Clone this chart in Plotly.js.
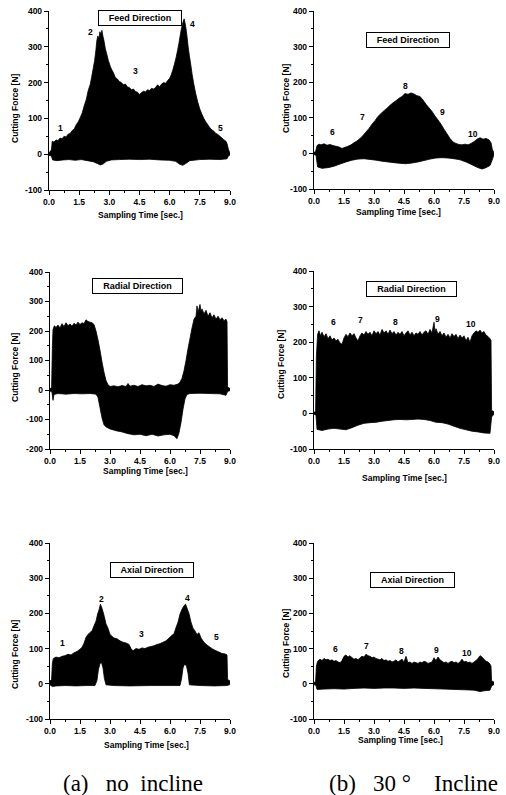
<!DOCTYPE html>
<html><head><meta charset="utf-8">
<script src="https://cdn.plot.ly/plotly-3.0.1.min.js"></script>
<style>html,body{margin:0;padding:0;background:#fff}#chart{width:506px;height:795px}</style>
</head><body><div id="chart"></div>
<script>
// ---------- data (time in sec., force in N) ----------
const xTickVals = [0, 1.5, 3.0, 4.5, 6.0, 7.5, 9.0];
const xTickText = ["0.0", "1.5", "3.0", "4.5", "6.0", "7.5", "9.0"];
const yTicksStd = [-100, 0, 100, 200, 300, 400];
const yTicksRad = [-200, -100, 0, 100, 200, 300, 400];

// (a) no incline - Feed
const feedA_upT = [0,0.06,0.12,0.16,0.25,0.35,0.45,0.55,0.65,0.75,0.85,0.95,1.05,1.15,1.25,1.35,1.45,1.55,1.65,1.75,1.85,1.95,2.05,2.12,2.2,2.27,2.33,2.38,2.43,2.48,2.53,2.58,2.63,2.68,2.73,2.8,2.87,2.95,3.05,3.12,3.2,3.3,3.4,3.5,3.6,3.7,3.8,3.9,4.0,4.1,4.2,4.3,4.4,4.5,4.6,4.7,4.8,4.9,5.0,5.1,5.2,5.3,5.4,5.5,5.6,5.7,5.8,5.9,6.0,6.08,6.16,6.24,6.32,6.4,6.46,6.52,6.58,6.63,6.68,6.72,6.76,6.81,6.86,6.92,6.98,7.05,7.12,7.2,7.3,7.4,7.5,7.6,7.7,7.8,7.9,8.0,8.1,8.2,8.3,8.4,8.5,8.6,8.7,8.8,8.86,8.92,8.96,9.0];
const feedA_upF = [4,8,12,36,34,40,38,45,43,50,48,56,58,66,70,82,90,102,115,135,152,178,195,215,240,262,290,318,330,322,342,335,346,330,318,295,280,262,245,236,228,214,210,203,200,194,196,188,186,180,182,175,173,167,172,176,174,180,178,184,182,186,194,188,196,200,198,206,212,222,236,252,270,292,310,330,350,362,372,378,368,352,330,300,275,250,222,196,168,145,126,112,100,90,82,74,68,64,58,55,50,45,40,36,28,14,8,4];
const feedA_loT = [0,0.12,0.18,0.4,0.7,1.0,1.3,1.6,1.9,2.2,2.4,2.55,2.7,2.85,3.1,3.5,4.0,4.5,5.0,5.5,6.0,6.3,6.5,6.65,6.8,7.0,7.5,8.0,8.5,8.85,8.92,9.0];
const feedA_loF = [-3,-5,-16,-18,-16,-15,-17,-15,-18,-21,-26,-30,-27,-20,-16,-15,-14,-15,-14,-16,-17,-20,-28,-31,-26,-18,-15,-14,-15,-13,-5,-2];

// (b) 30 deg incline - Feed
const feedB_upT = [0,0.08,0.15,0.25,0.35,0.5,0.65,0.8,0.95,1.1,1.25,1.4,1.55,1.7,1.85,2.0,2.15,2.3,2.45,2.6,2.75,2.9,3.05,3.2,3.35,3.5,3.65,3.8,3.95,4.1,4.25,4.4,4.55,4.7,4.85,5.0,5.15,5.3,5.45,5.6,5.75,5.9,6.05,6.2,6.35,6.5,6.65,6.8,6.95,7.1,7.25,7.4,7.55,7.7,7.85,8.0,8.15,8.3,8.45,8.6,8.75,8.85,8.92,9.0];
const feedB_upF = [3,5,22,26,24,27,23,25,22,20,18,14,17,20,24,30,35,42,50,60,70,82,92,104,112,120,127,135,142,148,155,160,168,166,170,167,162,160,150,138,128,118,105,94,82,68,55,42,32,28,25,24,26,24,28,33,40,44,40,42,38,30,10,2];
const feedB_loT = [0,0.1,0.18,0.4,0.7,1.0,1.3,1.6,1.9,2.2,2.5,2.8,3.1,3.4,3.7,4.0,4.3,4.6,4.9,5.2,5.5,5.8,6.1,6.4,6.7,7.0,7.3,7.6,7.9,8.2,8.4,8.6,8.8,8.9,9.0];
const feedB_loF = [-3,-5,-38,-42,-40,-36,-30,-24,-19,-16,-15,-17,-19,-22,-24,-26,-28,-29,-27,-24,-20,-16,-13,-12,-13,-15,-18,-24,-32,-40,-44,-40,-34,-20,-3];

// (a) Radial
const radA_upT = [0,0.08,0.12,0.15,0.22,0.3,0.4,0.5,0.6,0.7,0.8,0.9,1.0,1.1,1.2,1.3,1.4,1.5,1.6,1.7,1.8,1.9,2.0,2.1,2.2,2.3,2.4,2.5,2.6,2.7,2.8,2.9,3.0,3.2,3.4,3.6,3.8,3.9,4.0,4.2,4.4,4.6,4.8,5.0,5.2,5.4,5.6,5.8,6.0,6.2,6.4,6.5,6.6,6.7,6.8,6.9,7.0,7.1,7.2,7.3,7.35,7.4,7.5,7.55,7.6,7.7,7.8,7.9,8.0,8.1,8.2,8.3,8.4,8.5,8.6,8.7,8.8,8.85,8.88,9.0];
const radA_upF = [5,8,150,205,218,212,220,210,225,215,228,218,224,216,226,220,230,222,228,225,238,232,230,228,222,200,170,135,95,60,32,18,12,14,11,15,12,22,13,16,12,18,14,16,12,20,15,13,18,16,20,26,40,65,100,140,175,210,240,250,285,262,290,265,275,258,270,250,262,245,255,240,250,238,245,235,240,232,10,5];
const radA_loT = [0,0.1,0.15,0.2,0.4,0.8,1.2,1.6,2.0,2.3,2.4,2.5,2.6,2.7,2.8,3.0,3.3,3.6,3.9,4.2,4.5,4.8,5.1,5.4,5.7,6.0,6.2,6.35,6.45,6.55,6.65,6.75,6.85,7.0,7.5,8.0,8.5,8.8,8.88,9.0];
const radA_loF = [-3,-8,-35,-15,-12,-14,-12,-13,-12,-14,-25,-60,-95,-118,-125,-132,-138,-142,-148,-152,-150,-155,-150,-156,-152,-150,-155,-165,-145,-110,-65,-30,-15,-12,-11,-12,-13,-18,-5,-2];

// (b) Radial
const radB_upT = [0,0.08,0.12,0.18,0.25,0.32,0.4,0.5,0.6,0.7,0.8,0.9,1.0,1.1,1.2,1.3,1.4,1.5,1.6,1.7,1.8,1.9,2.0,2.1,2.2,2.3,2.4,2.5,2.6,2.7,2.8,2.9,3.0,3.1,3.2,3.3,3.4,3.5,3.6,3.7,3.8,3.9,4.0,4.1,4.2,4.3,4.4,4.5,4.6,4.7,4.8,4.9,5.0,5.1,5.2,5.3,5.4,5.5,5.6,5.7,5.8,5.9,6.0,6.05,6.1,6.2,6.3,6.4,6.5,6.6,6.7,6.8,6.9,7.0,7.1,7.2,7.3,7.4,7.5,7.6,7.7,7.8,7.9,8.0,8.1,8.2,8.3,8.4,8.5,8.6,8.7,8.8,8.85,8.88,9.0];
const radB_upF = [3,5,160,222,232,218,228,215,224,210,218,206,212,204,208,198,194,212,222,215,226,218,224,212,204,218,226,220,230,222,228,218,232,224,230,220,236,226,232,222,234,224,230,220,228,222,230,218,226,232,220,228,218,226,222,230,220,228,232,222,236,226,256,228,238,222,230,218,226,214,222,212,224,216,222,210,220,212,218,204,214,200,218,226,232,228,234,226,230,220,216,210,205,8,5];
const radB_loT = [0,0.1,0.15,0.4,0.7,1.0,1.3,1.6,1.9,2.2,2.5,2.8,3.1,3.4,3.7,4.0,4.3,4.6,4.9,5.2,5.5,5.8,6.1,6.4,6.7,7.0,7.3,7.6,7.9,8.2,8.5,8.8,8.88,9.0];
const radB_loF = [-2,-5,-45,-48,-44,-42,-44,-46,-40,-33,-28,-26,-25,-22,-20,-18,-17,-18,-17,-16,-17,-20,-25,-26,-30,-36,-42,-46,-50,-52,-55,-56,-10,-2];

// (a) Axial
const axA_upT = [0,0.08,0.12,0.17,0.3,0.45,0.6,0.75,0.9,1.05,1.2,1.35,1.5,1.6,1.7,1.8,1.9,2.0,2.1,2.2,2.3,2.38,2.45,2.52,2.58,2.65,2.72,2.8,2.9,3.0,3.1,3.2,3.35,3.5,3.65,3.8,3.95,4.05,4.15,4.3,4.45,4.6,4.75,4.9,5.05,5.2,5.35,5.5,5.65,5.8,5.95,6.1,6.2,6.3,6.4,6.5,6.6,6.7,6.78,6.85,6.95,7.05,7.15,7.25,7.35,7.45,7.55,7.7,7.85,8.0,8.15,8.3,8.45,8.6,8.75,8.85,8.88,9.0];
const axA_upF = [8,12,60,72,76,74,78,80,84,82,88,92,98,104,115,132,140,146,150,165,178,198,210,226,218,205,190,170,158,140,135,130,128,122,118,116,112,100,94,100,98,102,100,104,106,108,112,114,118,122,130,138,142,160,175,198,212,222,226,215,200,175,158,150,140,145,130,118,110,104,98,94,90,86,85,82,12,8];
const axA_loT = [0,0.12,0.3,0.8,1.3,1.8,2.25,2.35,2.42,2.5,2.58,2.65,2.72,2.8,3.2,4.0,5.0,6.0,6.5,6.58,6.65,6.72,6.82,6.9,6.97,7.5,8.2,8.85,9.0];
const axA_loF = [-3,-8,-6,-5,-6,-5,-5,10,40,58,60,45,15,-3,-5,-6,-5,-5,-5,15,45,55,52,30,-3,-5,-6,-5,-2];

// (b) Axial
const axB_upT = [0,0.08,0.12,0.18,0.3,0.4,0.5,0.6,0.7,0.8,0.9,1.0,1.1,1.2,1.3,1.4,1.5,1.6,1.7,1.8,1.9,2.0,2.1,2.2,2.3,2.4,2.5,2.6,2.7,2.8,2.9,3.0,3.1,3.2,3.3,3.4,3.5,3.6,3.7,3.8,3.9,4.0,4.1,4.2,4.3,4.4,4.5,4.6,4.7,4.8,4.9,5.0,5.1,5.2,5.3,5.4,5.5,5.6,5.7,5.8,5.9,6.0,6.1,6.2,6.3,6.4,6.5,6.6,6.7,6.8,6.9,7.0,7.1,7.2,7.3,7.4,7.5,7.6,7.7,7.8,7.9,8.0,8.1,8.2,8.3,8.4,8.5,8.6,8.7,8.8,8.85,8.88,9.0];
const axB_upF = [4,6,50,64,70,66,72,68,70,66,68,64,66,62,60,66,78,82,76,80,74,70,72,68,74,78,76,84,80,78,74,76,72,70,68,72,66,68,64,66,62,64,68,62,66,70,62,78,60,62,58,62,60,58,62,60,64,62,58,60,62,74,66,76,68,64,60,62,58,62,64,60,62,58,62,70,62,64,60,62,58,62,66,72,80,76,70,64,62,56,50,8,5];
const axB_loT = [0,0.1,0.15,0.5,1.0,1.5,2.0,2.5,3.0,3.5,4.0,4.5,5.0,5.5,6.0,6.5,7.0,7.5,8.0,8.3,8.5,8.8,8.88,9.0];
const axB_loF = [-2,-5,-16,-15,-14,-15,-13,-12,-13,-12,-12,-13,-12,-13,-14,-15,-16,-17,-18,-22,-20,-18,-6,-2];

// peak markers
const labelsA = ["1", "2", "3", "4", "5"];
const labelsB = ["6", "7", "8", "9", "10"];
const feedA_labT = [0.58, 2.06, 4.32, 7.14, 8.55];
const feedA_labF = [74, 342, 232, 364, 72];
const feedB_labT = [0.92, 2.42, 4.55, 6.43, 7.97];
const feedB_labF = [60, 103, 190, 116, 55];
const radB_labT = [0.97, 2.34, 4.09, 6.18, 7.85];
const radB_labF = [256, 261, 258, 264, 252];
const axA_labT = [0.63, 2.55, 4.57, 6.88, 8.3];
const axA_labF = [115, 240, 142, 243, 132];
const axB_labT = [1.05, 2.62, 4.37, 6.14, 7.63];
const axB_labF = [99, 106, 94, 95, 87];

const panelTitles = ["Feed Direction", "Feed Direction", "Radial Direction", "Radial Direction", "Axial Direction", "Axial Direction"];
const xTitle = "Sampling Time [sec.]";
const yTitle = "Cutting Force [N]";
const NB = "\u00a0";
const captions = ["(a)" + NB.repeat(3) + "no" + NB.repeat(2) + "incline",
                  "(b)" + NB.repeat(3) + "30" + NB + "\u00b0" + NB.repeat(4) + "Incline"];

// ---------- layout geometry (pixels) ----------
const W = 506, H = 795;
const px = v => v / W, py = v => 1 - v / H;
const panels = [
  {up:[feedA_upT,feedA_upF], lo:[feedA_loT,feedA_loF], box:[49,230,11,190], yr:[-100,400], yt:yTicksStd,
   lab:[labelsA,feedA_labT,feedA_labF], tpos:[140,18,84], xt:[140,215], yti:[15,108]},
  {up:[feedB_upT,feedB_upF], lo:[feedB_loT,feedB_loF], box:[314,494,11,189], yr:[-100,400], yt:yTicksStd,
   lab:[labelsB,feedB_labT,feedB_labF], tpos:[408,40,84], xt:[398,212], yti:[286,98]},
  {up:[radA_upT,radA_upF], lo:[radA_loT,radA_loF], box:[50,230,272,449], yr:[-200,400], yt:yTicksRad,
   lab:null, tpos:[137,286,91], xt:[145,471], yti:[15,367]},
  {up:[radB_upT,radB_upF], lo:[radB_loT,radB_loF], box:[314,494,271,449], yr:[-100,400], yt:yTicksStd,
   lab:[labelsB,radB_labT,radB_labF], tpos:[411,289,91], xt:[404,478], yti:[281,364]},
  {up:[axA_upT,axA_upF], lo:[axA_loT,axA_loF], box:[50,230,543,719], yr:[-100,400], yt:yTicksStd,
   lab:[labelsA,axA_labT,axA_labF], tpos:[152,570,84], xt:[146,745], yti:[15,654]},
  {up:[axB_upT,axB_upF], lo:[axB_loT,axB_loF], box:[314,494,543,719], yr:[-100,400], yt:yTicksStd,
   lab:[labelsB,axB_labT,axB_labF], tpos:[412,580,85], xt:[400,740], yti:[286,643]}
];

const FAM = "Liberation Sans, Arial, sans-serif";
const tickFont = {family: FAM, size: 8.5, color: "#000", weight: "bold"};
const data = [];
const layout = {
  width: W, height: H, margin: {l:0, r:0, t:0, b:0},
  paper_bgcolor: "#fff", plot_bgcolor: "#fff", showlegend: false,
  annotations: []
};

panels.forEach((p, i) => {
  const n = i === 0 ? "" : String(i + 1);
  data.push({
    type: "scatter", mode: "lines", x: p.lo[0], y: p.lo[1],
    line: {color: "#000", width: 0.8, simplify: false},
    xaxis: "x" + n, yaxis: "y" + n, hoverinfo: "skip", showlegend: false
  });
  data.push({
    type: "scatter", mode: "lines", x: p.up[0], y: p.up[1],
    fill: "tonexty", fillcolor: "#000",
    line: {color: "#000", width: 0.8, simplify: false},
    xaxis: "x" + n, yaxis: "y" + n, hoverinfo: "skip", showlegend: false
  });
  const [l, r, t, b] = p.box;
  layout["xaxis" + n] = {
    domain: [px(l), px(r)], anchor: "y" + n, range: [0, 9],
    tickmode: "array", tickvals: xTickVals, ticktext: xTickText,
    ticks: "outside", ticklen: 4, tickwidth: 1, tickcolor: "#000",
    minor: {tickmode: "linear", tick0: 0, dtick: 0.75, ticks: "outside", ticklen: 2, tickcolor: "#000", showgrid: false},
    showline: true, linecolor: "#000", linewidth: 1.2,
    showgrid: false, zeroline: false, tickfont: tickFont, fixedrange: true
  };
  layout["yaxis" + n] = {
    domain: [py(b), py(t)], anchor: "x" + n, range: p.yr,
    tickmode: "array", tickvals: p.yt, ticktext: p.yt.map(String),
    ticks: "outside", ticklen: 4, tickwidth: 1, tickcolor: "#000",
    minor: {tickmode: "linear", tick0: 0, dtick: 50, ticks: "outside", ticklen: 2, tickcolor: "#000", showgrid: false},
    showline: true, linecolor: "#000", linewidth: 1.2,
    showgrid: false, zeroline: false, tickfont: tickFont, fixedrange: true
  };
  layout.annotations.push({
    xref: "paper", yref: "paper", x: px(p.tpos[0]), y: py(p.tpos[1]),
    xanchor: "center", yanchor: "middle", showarrow: false,
    text: panelTitles[i], font: {family: FAM, size: 9, color: "#000", weight: "bold"},
    bgcolor: "#fff", bordercolor: "#000", borderwidth: 1, borderpad: 2,
    width: p.tpos[2] - 6, height: 10
  });
  layout.annotations.push({
    xref: "paper", yref: "paper", x: px(p.xt[0]), y: py(p.xt[1]),
    xanchor: "center", yanchor: "middle", showarrow: false,
    text: xTitle, font: {family: FAM, size: 8.5, color: "#000", weight: "bold"}
  });
  layout.annotations.push({
    xref: "paper", yref: "paper", x: px(p.yti[0]), y: py(p.yti[1]),
    xanchor: "center", yanchor: "middle", showarrow: false, textangle: -90,
    text: yTitle, font: {family: FAM, size: 8.5, color: "#000", weight: "bold"}
  });
  if (p.lab) {
    p.lab[0].forEach((s, k) => {
      layout.annotations.push({
        xref: "x" + n, yref: "y" + n, x: p.lab[1][k], y: p.lab[2][k],
        xanchor: "center", yanchor: "middle", showarrow: false,
        text: s, font: {family: FAM, size: 8.5, color: "#000", weight: "bold"}
      });
    });
  }
});

[[133, 783], [413, 783]].forEach((c, i) => {
  layout.annotations.push({
    xref: "paper", yref: "paper", x: px(c[0]), y: py(c[1]),
    xanchor: "center", yanchor: "middle", showarrow: false,
    text: captions[i], font: {family: "Liberation Serif, Times New Roman, serif", size: 23, color: "#000"}
  });
});

Plotly.newPlot("chart", data, layout, {staticPlot: true, displayModeBar: false});
</script>
</body></html>
